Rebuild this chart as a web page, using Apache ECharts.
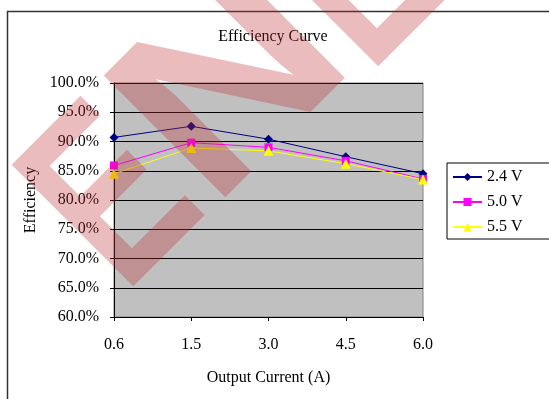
<!DOCTYPE html>
<html><head><meta charset="utf-8">
<script src="https://cdn.jsdelivr.net/npm/echarts@6/dist/echarts.min.js"></script>
<style>html,body{margin:0;padding:0;background:#fff}#c{width:549px;height:399px}</style>
</head><body><div id="c"></div>
<script>
const categories = ['0.6', '1.5', '3.0', '4.5', '6.0'];
const seriesNames = ['2.4 V', '5.0 V', '5.5 V'];
const eff24 = [90.7, 92.6, 90.4, 87.4, 84.5];
const eff50 = [85.9, 89.8, 89.0, 86.7, 83.6];
const eff55 = [84.5, 88.9, 88.4, 86.2, 83.5];
const yMin = 60, yMax = 100, yStep = 5;
const titleText = 'Efficiency Curve';
const xName = 'Output Current (A)';
const yName = 'Efficiency';
const watermarkLetters = ['E', 'N', 'E'];

const serif = '"Liberation Serif", "Times New Roman", serif';
const wmFill = 'rgba(192,46,50,0.32)';
const wmRot = Math.PI / 4;
const wmPlace = [
  { x: 76, y: 246, sx: 0.72 },
  { x: 163, y: 162, sx: 1.15 },
  { x: 321, y: 26, sx: 0.72 }
];

const chart = echarts.init(document.getElementById('c'), null, { renderer: 'canvas' });
const mkSeries = (name, data, color, symbol, size) => ({
  name, type: 'line', data, symbol, symbolSize: size,
  lineStyle: { color, width: 1 },
  itemStyle: { color, borderWidth: 0 },
  emphasis: { disabled: true },
  animation: false
});
chart.setOption({
  animation: false,
  backgroundColor: '#ffffff',
  title: {
    text: titleText, left: 268, top: 24, textAlign: 'center',
    textStyle: { fontFamily: serif, fontSize: 16, fontWeight: 'normal', color: '#000' }
  },
  legend: {
    orient: 'vertical', left: 447, top: 163,
    padding: [6, 40, 4, 5], itemGap: 9, itemWidth: 29, itemHeight: 10,
    borderColor: '#000', borderWidth: 1, backgroundColor: '#fff',
    textStyle: { fontFamily: serif, fontSize: 16, color: '#000', lineHeight: 16 },
    data: seriesNames
  },
  grid: {
    left: 114, top: 83, right: 126, bottom: 82,
    show: true, backgroundColor: '#C0C0C0', borderColor: '#808080', borderWidth: 1
  },
  xAxis: {
    type: 'category', data: categories, boundaryGap: false,
    name: xName, nameLocation: 'middle', nameGap: 53,
    nameTextStyle: { fontFamily: serif, fontSize: 16, color: '#000' },
    axisLine: { lineStyle: { color: '#000', width: 1 } },
    axisTick: { show: true, length: 4, inside: false, lineStyle: { color: '#000' } },
    axisLabel: { fontFamily: serif, fontSize: 16, color: '#000', margin: 20 },
    splitLine: { show: false }
  },
  yAxis: {
    type: 'value', min: yMin, max: yMax, interval: yStep,
    name: yName, nameLocation: 'middle', nameGap: 71, nameRotate: 90,
    nameTextStyle: { fontFamily: serif, fontSize: 16, color: '#000' },
    axisLine: { show: true, lineStyle: { color: '#000', width: 1 } },
    axisTick: { show: true, length: 4, lineStyle: { color: '#000' } },
    axisLabel: { fontFamily: serif, fontSize: 16, color: '#000', margin: 15,
      formatter: v => v.toFixed(1) + '%' },
    splitLine: { show: true, lineStyle: { color: '#000', width: 1 } }
  },
  series: [
    mkSeries(seriesNames[0], eff24, '#000080', 'diamond', 9),
    mkSeries(seriesNames[1], eff50, '#FF00FF', 'rect', 8),
    mkSeries(seriesNames[2], eff55, '#FFFF00', 'triangle', 10)
  ],
  graphic: [
    { type: 'rect', z: 90, silent: true,
      shape: { x: 7.5, y: 11.5, width: 700, height: 600 },
      style: { fill: 'none', stroke: '#333', lineWidth: 1.5 } }
  ].concat(watermarkLetters.map((ch, i) => ({
    type: 'text', z: 100, silent: true,
    x: wmPlace[i].x, y: wmPlace[i].y, rotation: wmRot, scaleX: wmPlace[i].sx, scaleY: 1,
    style: { text: ch, font: 'bold 250px "Liberation Sans"', fill: wmFill,
      align: 'left', verticalAlign: 'middle', textAlign: 'left', textVerticalAlign: 'middle' }
  })))
});
</script></body></html>
